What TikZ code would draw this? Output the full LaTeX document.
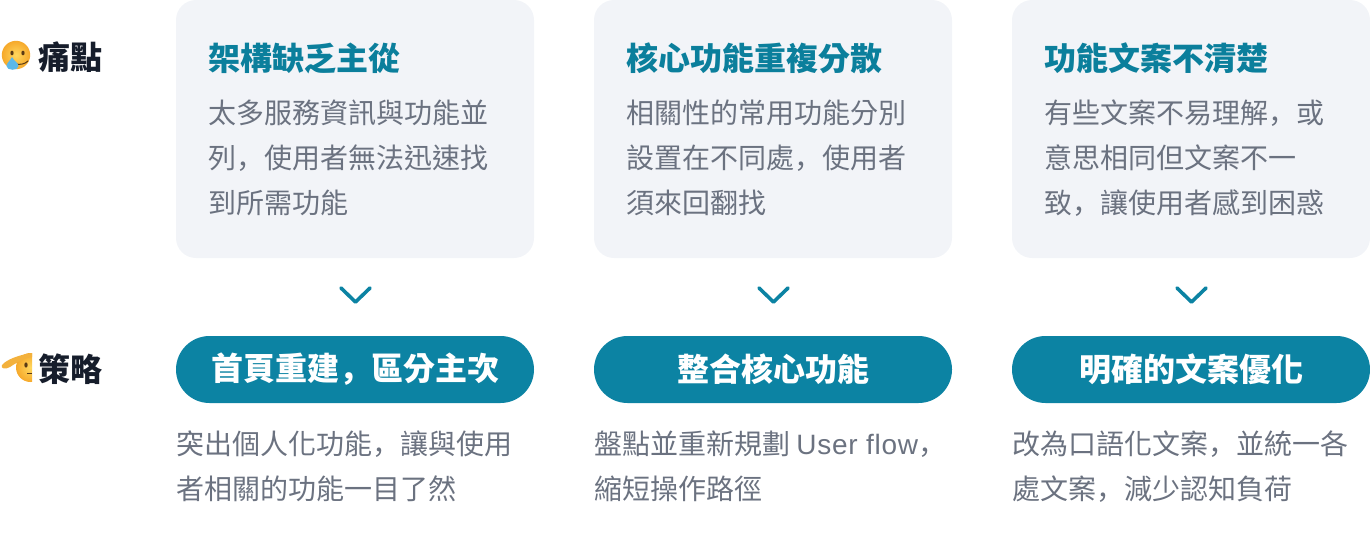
\documentclass[tikz,border=0pt]{standalone}
\usepackage{fontspec}
\setmainfont{Noto Sans CJK TC}
\newfontfamily\latinfont[LetterSpace=2.5]{Liberation Sans}
\newfontfamily\commafont{Noto Sans CJK SC}
\newcommand{\fwc}{{\commafont\char"FF0C\relax}}
\definecolor{teal1}{HTML}{0C83A3}
\definecolor{title1}{HTML}{0B7F9C}
\definecolor{card}{HTML}{F2F4F8}
\definecolor{body1}{HTML}{6B7280}
\definecolor{dark1}{HTML}{161D2B}
\definecolor{facein}{HTML}{FFD75E}
\definecolor{faceout}{HTML}{F6A92B}
\definecolor{handc}{HTML}{F3B13C}
\definecolor{tear}{HTML}{5DB8E8}
\definecolor{feat}{HTML}{5A3A14}
\tikzset{
  x=1pt,y=-1pt,
  cardbox/.style={fill=card,draw=none,rounded corners=20pt},
  pill/.style={fill=teal1,draw=none,rounded corners=33.5pt},
  cardtitle/.style={anchor=west,inner sep=0pt,text=title1,font=\fontsize{32}{38}\selectfont\bfseries},
  cardbody/.style={anchor=west,inner sep=0pt,text=body1,align=left,font=\fontsize{28}{45}\selectfont},
  pilltext/.style={anchor=center,inner sep=0pt,text=white,font=\fontsize{32}{38}\selectfont\bfseries},
  note/.style={anchor=west,inner sep=0pt,text=body1,align=left,font=\fontsize{28}{45}\selectfont},
  sidelabel/.style={anchor=west,inner sep=0pt,text=dark1,font=\fontsize{32}{38}\selectfont\bfseries},
  chev/.style={draw=teal1,line width=3.6pt,line cap=round,line join=round},
  emojiface/.style={inner color=facein,outer color=faceout,draw=none},
}
\begin{document}
\begin{tikzpicture}
\useasboundingbox (0,0) rectangle (1370,536);
% emoji: crying face
\shade[emojiface] (16,55) circle (14.2);
\fill[feat] (12,53) ellipse (1.6 and 2.4);
\fill[feat] (23,53) ellipse (1.6 and 2.4);
\draw[feat,line width=1pt,line cap=round] (16,64) .. controls (20,65) and (25,64) .. (28,61);
\fill[tear] (12,57) .. controls (10,61) and (6.5,63) .. (6.5,66) .. controls (6.5,71) and (18.5,71) .. (18.5,66) .. controls (18.5,63) and (14,61) .. (12,57) -- cycle;
% emoji: saluting face
\begin{scope}
\clip (0,340) rectangle (32,400);
\shade[emojiface] (30.5,367.5) circle (14.5);
\fill[feat] (26,365) ellipse (1.7 and 2.6);
\draw[feat,line width=1.2pt] (27,373.5) -- (32,373.5);
\fill[handc] (2,365) .. controls (6,360) and (18,355) .. (32,353) -- (32,357) .. controls (24,358) and (16,363) .. (10,367) .. controls (6,369.5) and (0,369) .. (2,365) -- cycle;
\end{scope}
% side labels
\node[sidelabel] (painlabel) at (38,57.5) {痛點};
\node[sidelabel] (strategylabel) at (38,369) {策略};
% cards
\fill[cardbox] (176,0) rectangle (534,258);
\fill[cardbox] (594,0) rectangle (952,258);
\fill[cardbox] (1012,0) rectangle (1370,258);
\node[cardtitle] (t1) at (208,58) {架構缺乏主從};
\node[cardtitle] (t2) at (626,58) {核心功能重複分散};
\node[cardtitle] (t3) at (1044,58) {功能文案不清楚};
\node[cardbody] (b1) at (208,158) {太多服務資訊與功能並\\列\fwc 使用者無法迅速找\\到所需功能};
\node[cardbody] (b2) at (626,158) {相關性的常用功能分別\\設置在不同處\fwc 使用者\\須來回翻找};
\node[cardbody] (b3) at (1044,158) {有些文案不易理解\fwc 或\\意思相同但文案不一\\致\fwc 讓使用者感到困惑};
% chevrons
\draw[chev] (341,288) -- (355.5,302) -- (370,288);
\draw[chev] (759,288) -- (773.5,302) -- (788,288);
\draw[chev] (1177,288) -- (1191.5,302) -- (1206,288);
% pills
\fill[pill] (176,336) rectangle (534,403);
\fill[pill] (594,336) rectangle (952,403);
\fill[pill] (1012,336) rectangle (1370,403);
\node[pilltext] (p1) at (355.5,369) {首頁重建\fwc 區分主次};
\node[pilltext] (p2) at (773,369) {整合核心功能};
\node[pilltext] (p3) at (1191,369) {明確的文案優化};
% notes
\node[note] (n1) at (176,466.5) {突出個人化功能\fwc 讓與使用\\者相關的功能一目了然};
\node[note] (n2) at (594,466.5) {盤點並重新規劃 {\latinfont User flow}\fwc\\縮短操作路徑};
\node[note] (n3) at (1012,466.5) {改為口語化文案\fwc 並統一各\\處文案\fwc 減少認知負荷};
\end{tikzpicture}
\end{document}
